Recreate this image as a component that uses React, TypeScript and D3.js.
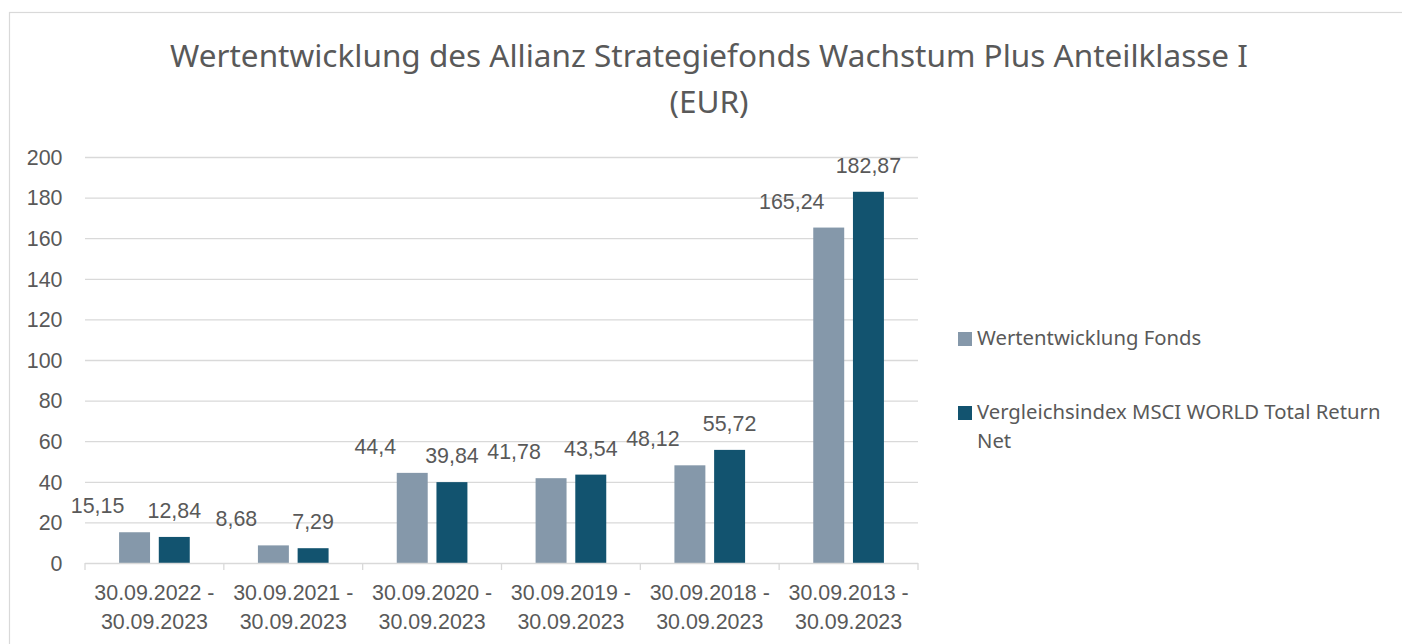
import React from "react";
import * as d3 from "d3";

const categories = [
  ["30.09.2022 -", "30.09.2023"],
  ["30.09.2021 -", "30.09.2023"],
  ["30.09.2020 -", "30.09.2023"],
  ["30.09.2019 -", "30.09.2023"],
  ["30.09.2018 -", "30.09.2023"],
  ["30.09.2013 -", "30.09.2023"],
];
const fondsValues = [15.15, 8.68, 44.4, 41.78, 48.12, 165.24];
const indexValues = [12.84, 7.29, 39.84, 43.54, 55.72, 182.87];
const seriesNames = ["Wertentwicklung Fonds", "Vergleichsindex MSCI WORLD Total Return Net"];
const yTicks = [0, 20, 40, 60, 80, 100, 120, 140, 160, 180, 200];
const titleLines = ["Wertentwicklung des Allianz Strategiefonds Wachstum Plus Anteilklasse I", "(EUR)"];

const COLORS = ["#8598AA", "#12536F"];
const TEXT = "#595959";
const GRID = "#D9D9D9";
const AXIS_FONT = "'Liberation Sans', Arial, sans-serif";
const TITLE_FONT = "'Noto Sans', sans-serif";
const AXIS_SIZE = 21.4;

export default function App() {
  const left = 85, right = 918, top = 157, bottom = 563;
  const x = d3.scaleBand<number>().domain(d3.range(categories.length)).range([left, right]);
  const y = d3.scaleLinear().domain([0, 200]).range([bottom, top]);
  const bw = x.bandwidth();
  const barW = bw * 0.223;
  const gap = bw * 0.063;
  const fmt = (v: number) => String(v).replace(".", ",");

  const series = [fondsValues, indexValues];

  return (
    <svg width={1402} height={644} style={{ position: "absolute", left: 0, top: 0 }}>
      <rect x={0} y={0} width={1402} height={644} fill="#fff" />
      <rect x={9.5} y={12.5} width={1400} height={640} fill="none" stroke={GRID} strokeWidth={1.2} />
      {titleLines.map((t, i) => (
        <text key={i} x={709} y={67 + i * 46} textAnchor="middle" fontFamily={TITLE_FONT} fontSize={31.5} fill={TEXT}>
          {t}
        </text>
      ))}
      {yTicks.map((t) => (
        <g key={t}>
          {t > 0 && <line x1={left} x2={right} y1={y(t) + 0.5} y2={y(t) + 0.5} stroke={GRID} strokeWidth={1.3} />}
          <text x={62.5} y={y(t) + 7.7} textAnchor="end" fontFamily={AXIS_FONT} fontSize={AXIS_SIZE} fill={TEXT}>
            {t}
          </text>
        </g>
      ))}
      {series.map((vals, s) =>
        vals.map((v, i) => {
          const cx = x(i)! + bw / 2;
          const bx = s === 0 ? cx - gap / 2 - barW : cx + gap / 2;
          return (
            <rect key={`${s}-${i}`} x={bx} y={y(v)} width={barW} height={y(0) - y(v)} fill={COLORS[s]} />
          );
        })
      )}
      {series.map((vals, s) =>
        vals.map((v, i) => {
          const cx = x(i)! + bw / 2;
          const bcx = s === 0 ? cx - gap / 2 - barW / 2 : cx + gap / 2 + barW / 2;
          const lx = s === 0 ? bcx - 37 : bcx;
          return (
            <text key={`l${s}-${i}`} x={lx} y={y(v) - 19} textAnchor="middle" fontFamily={AXIS_FONT} fontSize={AXIS_SIZE} fill={TEXT}>
              {fmt(v)}
            </text>
          );
        })
      )}
      <line x1={left} x2={right} y1={bottom + 0.5} y2={bottom + 0.5} stroke={GRID} strokeWidth={1.3} />
      {d3.range(categories.length + 1).map((i) => {
        const tx = left + i * bw;
        return <line key={i} x1={tx} x2={tx} y1={bottom} y2={bottom + 7} stroke={GRID} strokeWidth={1.3} />;
      })}
      {categories.map((c, i) => (
        <text key={i} textAnchor="middle" fontFamily={AXIS_FONT} fontSize={AXIS_SIZE} fill={TEXT}>
          {c.map((line, j) => (
            <tspan key={j} x={x(i)! + bw / 2} y={600 + j * 29}>
              {line}
            </tspan>
          ))}
        </text>
      ))}
      <g>
        <rect x={958} y={332} width={14} height={14} fill={COLORS[0]} />
        <text x={977} y={345} fontFamily={TITLE_FONT} fontSize={20.3} fill={TEXT}>
          {seriesNames[0]}
        </text>
        <rect x={958} y={406} width={14} height={14} fill={COLORS[1]} />
        <text fontFamily={TITLE_FONT} fontSize={20.3} fill={TEXT}>
          <tspan x={977} y={419}>Vergleichsindex MSCI WORLD Total Return</tspan>
          <tspan x={977} y={448}>Net</tspan>
        </text>
      </g>
    </svg>
  );
}
